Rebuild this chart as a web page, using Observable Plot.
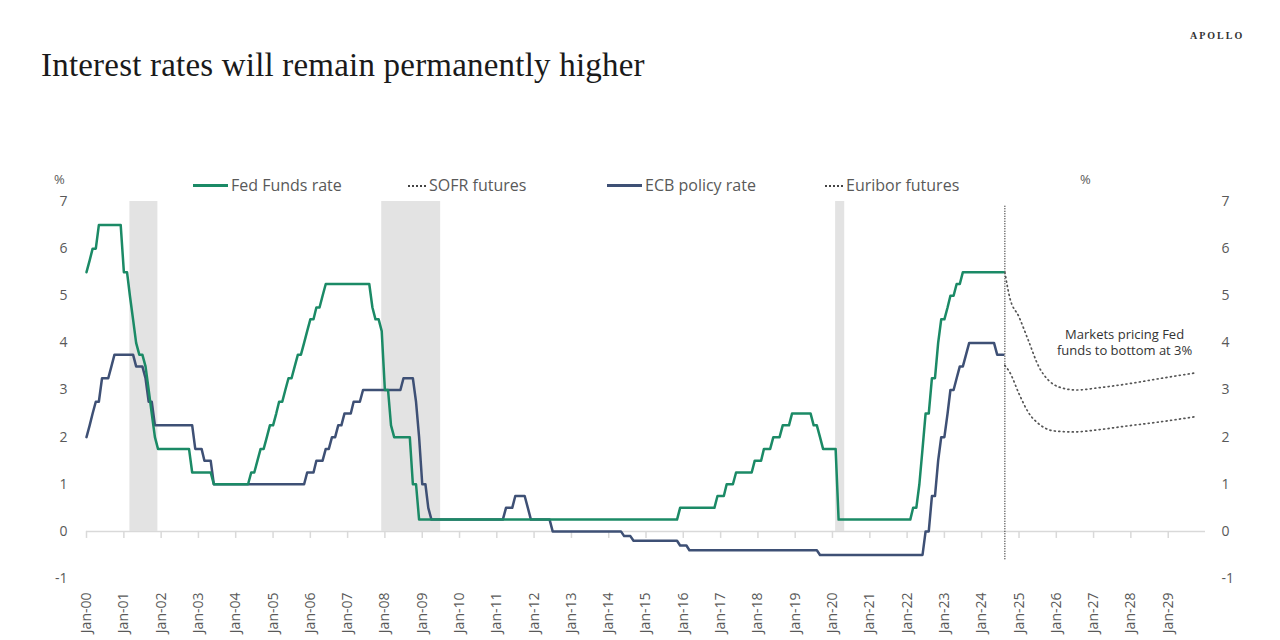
<!DOCTYPE html>
<html>
<head>
<meta charset="utf-8">
<script src="https://cdn.jsdelivr.net/npm/d3@7"></script>
<script src="https://cdn.jsdelivr.net/npm/@observablehq/plot@0.6"></script>
<style>
  html, body { margin: 0; padding: 0; background: #fff; }
  #wrap { position: relative; width: 1280px; height: 640px; overflow: hidden; font-family: "Open Sans", sans-serif; }
  #header { height: 165px; position: relative; }
  #title { position: absolute; left: 41px; top: 49px; font-family: "Liberation Serif", serif; font-size: 33px; letter-spacing: 0.2px; color: #1a1a1a; line-height: 1; white-space: nowrap; }
  #brand { position: absolute; left: 1190px; top: 30px; font-family: "Liberation Serif", serif; font-size: 10px; font-weight: bold; letter-spacing: 2px; color: #333; }
  .leg { position: absolute; top: 175px; font-size: 16px; color: #595959; white-space: nowrap; line-height: 20px; }
  .leg .sw { display: inline-block; vertical-align: middle; margin-right: 3px; position: relative; top: -1px; }
  .pct { position: absolute; top: 170px; font-size: 13px; color: #595959; }
</style>
</head>
<body>
<div id="wrap">
  <div id="header">
    <div id="title">Interest rates will remain permanently higher</div>
    <div id="brand">APOLLO</div>
  </div>
  <div id="chart"></div>
  <div class="pct" style="left:54px;">%</div>
  <div class="pct" style="left:1080px;">%</div>
  <div class="leg" style="left:193px;"><span class="sw" style="width:35px;border-top:3px solid #1b8a66;"></span>Fed Funds rate</div>
  <div class="leg" style="left:408px;"><span class="sw" style="width:18px;border-top:2px dotted #444;"></span>SOFR futures</div>
  <div class="leg" style="left:607px;"><span class="sw" style="width:35px;border-top:3px solid #3e5075;"></span>ECB policy rate</div>
  <div class="leg" style="left:825px;"><span class="sw" style="width:18px;border-top:2px dotted #444;"></span>Euribor futures</div>
</div>
<script>
// Monthly values, Jan 2000 - Aug 2024 (one line per year)
const fedFunds = [
  5.5,5.75,6,6,6.5,6.5,6.5,6.5,6.5,6.5,6.5,6.5,
  5.5,5.5,5,4.5,4,3.75,3.75,3.5,3,2.5,2,1.75,
  1.75,1.75,1.75,1.75,1.75,1.75,1.75,1.75,1.75,1.75,1.25,1.25,
  1.25,1.25,1.25,1.25,1.25,1,1,1,1,1,1,1,
  1,1,1,1,1,1.25,1.25,1.5,1.75,1.75,2,2.25,
  2.25,2.5,2.75,2.75,3,3.25,3.25,3.5,3.75,3.75,4,4.25,
  4.5,4.5,4.75,4.75,5,5.25,5.25,5.25,5.25,5.25,5.25,5.25,
  5.25,5.25,5.25,5.25,5.25,5.25,5.25,5.25,4.75,4.5,4.5,4.25,
  3,3,2.25,2,2,2,2,2,2,1,1,0.25,
  0.25,0.25,0.25,0.25,0.25,0.25,0.25,0.25,0.25,0.25,0.25,0.25,
  0.25,0.25,0.25,0.25,0.25,0.25,0.25,0.25,0.25,0.25,0.25,0.25,
  0.25,0.25,0.25,0.25,0.25,0.25,0.25,0.25,0.25,0.25,0.25,0.25,
  0.25,0.25,0.25,0.25,0.25,0.25,0.25,0.25,0.25,0.25,0.25,0.25,
  0.25,0.25,0.25,0.25,0.25,0.25,0.25,0.25,0.25,0.25,0.25,0.25,
  0.25,0.25,0.25,0.25,0.25,0.25,0.25,0.25,0.25,0.25,0.25,0.25,
  0.25,0.25,0.25,0.25,0.25,0.25,0.25,0.25,0.25,0.25,0.25,0.5,
  0.5,0.5,0.5,0.5,0.5,0.5,0.5,0.5,0.5,0.5,0.5,0.75,
  0.75,0.75,1,1,1,1.25,1.25,1.25,1.25,1.25,1.25,1.5,
  1.5,1.5,1.75,1.75,1.75,2,2,2,2.25,2.25,2.25,2.5,
  2.5,2.5,2.5,2.5,2.5,2.5,2.25,2.25,2,1.75,1.75,1.75,
  1.75,1.75,0.25,0.25,0.25,0.25,0.25,0.25,0.25,0.25,0.25,0.25,
  0.25,0.25,0.25,0.25,0.25,0.25,0.25,0.25,0.25,0.25,0.25,0.25,
  0.25,0.25,0.5,0.5,1,1.75,2.5,2.5,3.25,3.25,4,4.5,
  4.5,4.75,5,5,5.25,5.25,5.5,5.5,5.5,5.5,5.5,5.5,
  5.5,5.5,5.5,5.5,5.5,5.5,5.5,5.5
];
const ecbRate = [
  2,2.25,2.5,2.75,2.75,3.25,3.25,3.25,3.5,3.75,3.75,3.75,
  3.75,3.75,3.75,3.75,3.5,3.5,3.5,3.25,2.75,2.75,2.25,2.25,
  2.25,2.25,2.25,2.25,2.25,2.25,2.25,2.25,2.25,2.25,2.25,1.75,
  1.75,1.75,1.5,1.5,1.5,1,1,1,1,1,1,1,
  1,1,1,1,1,1,1,1,1,1,1,1,
  1,1,1,1,1,1,1,1,1,1,1,1.25,
  1.25,1.25,1.5,1.5,1.5,1.75,1.75,2,2,2.25,2.25,2.5,
  2.5,2.5,2.75,2.75,2.75,3,3,3,3,3,3,3,
  3,3,3,3,3,3,3.25,3.25,3.25,3.25,2.75,2,
  1,1,0.5,0.25,0.25,0.25,0.25,0.25,0.25,0.25,0.25,0.25,
  0.25,0.25,0.25,0.25,0.25,0.25,0.25,0.25,0.25,0.25,0.25,0.25,
  0.25,0.25,0.25,0.5,0.5,0.5,0.75,0.75,0.75,0.75,0.5,0.25,
  0.25,0.25,0.25,0.25,0.25,0.25,0,0,0,0,0,0,
  0,0,0,0,0,0,0,0,0,0,0,0,
  0,0,0,0,0,-0.1,-0.1,-0.1,-0.2,-0.2,-0.2,-0.2,
  -0.2,-0.2,-0.2,-0.2,-0.2,-0.2,-0.2,-0.2,-0.2,-0.2,-0.2,-0.3,
  -0.3,-0.3,-0.4,-0.4,-0.4,-0.4,-0.4,-0.4,-0.4,-0.4,-0.4,-0.4,
  -0.4,-0.4,-0.4,-0.4,-0.4,-0.4,-0.4,-0.4,-0.4,-0.4,-0.4,-0.4,
  -0.4,-0.4,-0.4,-0.4,-0.4,-0.4,-0.4,-0.4,-0.4,-0.4,-0.4,-0.4,
  -0.4,-0.4,-0.4,-0.4,-0.4,-0.4,-0.4,-0.4,-0.5,-0.5,-0.5,-0.5,
  -0.5,-0.5,-0.5,-0.5,-0.5,-0.5,-0.5,-0.5,-0.5,-0.5,-0.5,-0.5,
  -0.5,-0.5,-0.5,-0.5,-0.5,-0.5,-0.5,-0.5,-0.5,-0.5,-0.5,-0.5,
  -0.5,-0.5,-0.5,-0.5,-0.5,-0.5,0,0,0.75,0.75,1.5,2,
  2,2.5,3,3,3.25,3.5,3.5,3.75,4,4,4,4,
  4,4,4,4,4,3.75,3.75,3.75
];
const seriesStart = "2000-01-01";

// Futures curves
const sofrDates = ["2024-08-15","2024-10-01","2025-01-01","2025-04-01","2025-07-15","2025-10-15","2026-02-01","2026-07-15","2027-03-01","2027-11-01","2028-10-01","2029-09-15"];
const sofrFutures = [5.5,4.97,4.55,4.06,3.49,3.21,3.06,3.0,3.05,3.12,3.24,3.36];
const euriborDates = ["2024-08-15","2024-10-01","2025-01-01","2025-04-01","2025-08-01","2025-12-15","2026-06-15","2027-03-01","2027-11-01","2028-10-01","2029-09-15"];
const euriborFutures = [3.52,3.38,2.92,2.53,2.25,2.13,2.11,2.16,2.23,2.32,2.43];

// Recessions (shaded)
const recessionStart = ["2001-03-01","2007-12-01","2020-02-01"];
const recessionEnd = ["2001-11-30","2009-06-30","2020-04-30"];

// Axis
const yearTickLabels = ["Jan-00","Jan-01","Jan-02","Jan-03","Jan-04","Jan-05","Jan-06","Jan-07","Jan-08","Jan-09","Jan-10","Jan-11","Jan-12","Jan-13","Jan-14","Jan-15","Jan-16","Jan-17","Jan-18","Jan-19","Jan-20","Jan-21","Jan-22","Jan-23","Jan-24","Jan-25","Jan-26","Jan-27","Jan-28","Jan-29"];
const yTicks = [-1,0,1,2,3,4,5,6,7];
const forecastStart = "2024-08-15";
const annotation = "Markets pricing Fed\nfunds to bottom at 3%";

const fedColor = "#1b8a66";
const ecbColor = "#3e5075";

const t0 = new Date(seriesStart);
const fedRows = fedFunds.map((v, i) => ({date: d3.utcMonth.offset(t0, i), value: v}));
const ecbRows = ecbRate.map((v, i) => ({date: d3.utcMonth.offset(t0, i), value: v}));
const sofrRows = sofrDates.map((d, i) => ({date: new Date(d), value: sofrFutures[i]}));
const euriborRows = euriborDates.map((d, i) => ({date: new Date(d), value: euriborFutures[i]}));
const recessions = recessionStart.map((d, i) => ({start: new Date(d), end: new Date(recessionEnd[i])}));
const yearTicks = yearTickLabels.map((s) => new Date(Date.UTC(2000 + +s.slice(4), 0, 1)));
const labelOf = new Map(yearTicks.map((d, i) => [+d, yearTickLabels[i]]));

const chart = Plot.plot({
  width: 1280,
  height: 475,
  marginTop: 36,
  marginLeft: 86,
  marginRight: 75,
  marginBottom: 62,
  style: {fontFamily: "Open Sans, sans-serif", fontSize: "14px", color: "#595959", overflow: "visible"},
  x: {type: "utc", domain: [new Date("2000-01-01"), new Date("2030-01-01")]},
  y: {domain: [-1, 7]},
  marks: [
    Plot.rect(recessions, {x1: "start", x2: "end", y1: 0, y2: 7, fill: "#e3e3e3"}),
    Plot.ruleY([0], {stroke: "#d9d9d9", strokeWidth: 1.5}),
    Plot.ruleX(yearTicks, {x: (d) => d, y1: 0, y2: -0.15, stroke: "#d9d9d9", strokeWidth: 1.5}),
    Plot.axisX({ticks: yearTicks, tickFormat: (d) => labelOf.get(+d), tickRotate: -90, tickSize: 0, tickPadding: 14, label: null, fontSize: 14}),
    Plot.axisY({anchor: "left", ticks: yTicks, tickFormat: (d) => String(d), tickSize: 0, tickPadding: 19, label: null, fontSize: 14}),
    Plot.axisY({anchor: "right", ticks: yTicks, tickFormat: (d) => String(d), tickSize: 0, tickPadding: 16, label: null, fontSize: 14}),
    Plot.ruleX([new Date(forecastStart)], {y1: 6.9, y2: -0.6, stroke: "#333", strokeWidth: 1.3, strokeDasharray: "1,1.5"}),
    Plot.line(sofrRows, {x: "date", y: "value", curve: "monotone-x", stroke: "#555", strokeWidth: 1.7, strokeDasharray: "1,3.5", strokeLinecap: "round"}),
    Plot.line(euriborRows, {x: "date", y: "value", curve: "monotone-x", stroke: "#555", strokeWidth: 1.7, strokeDasharray: "1,3.5", strokeLinecap: "round"}),
    Plot.line(ecbRows, {x: "date", y: "value", stroke: ecbColor, strokeWidth: 2.5}),
    Plot.line(fedRows, {x: "date", y: "value", stroke: fedColor, strokeWidth: 2.5}),
    Plot.text([annotation], {x: new Date("2027-11-01"), y: 4.02, text: (d) => d, fontSize: 13, fill: "#333", lineHeight: 1.25})
  ]
});
document.getElementById("chart").appendChild(chart);
</script>
</body>
</html>
